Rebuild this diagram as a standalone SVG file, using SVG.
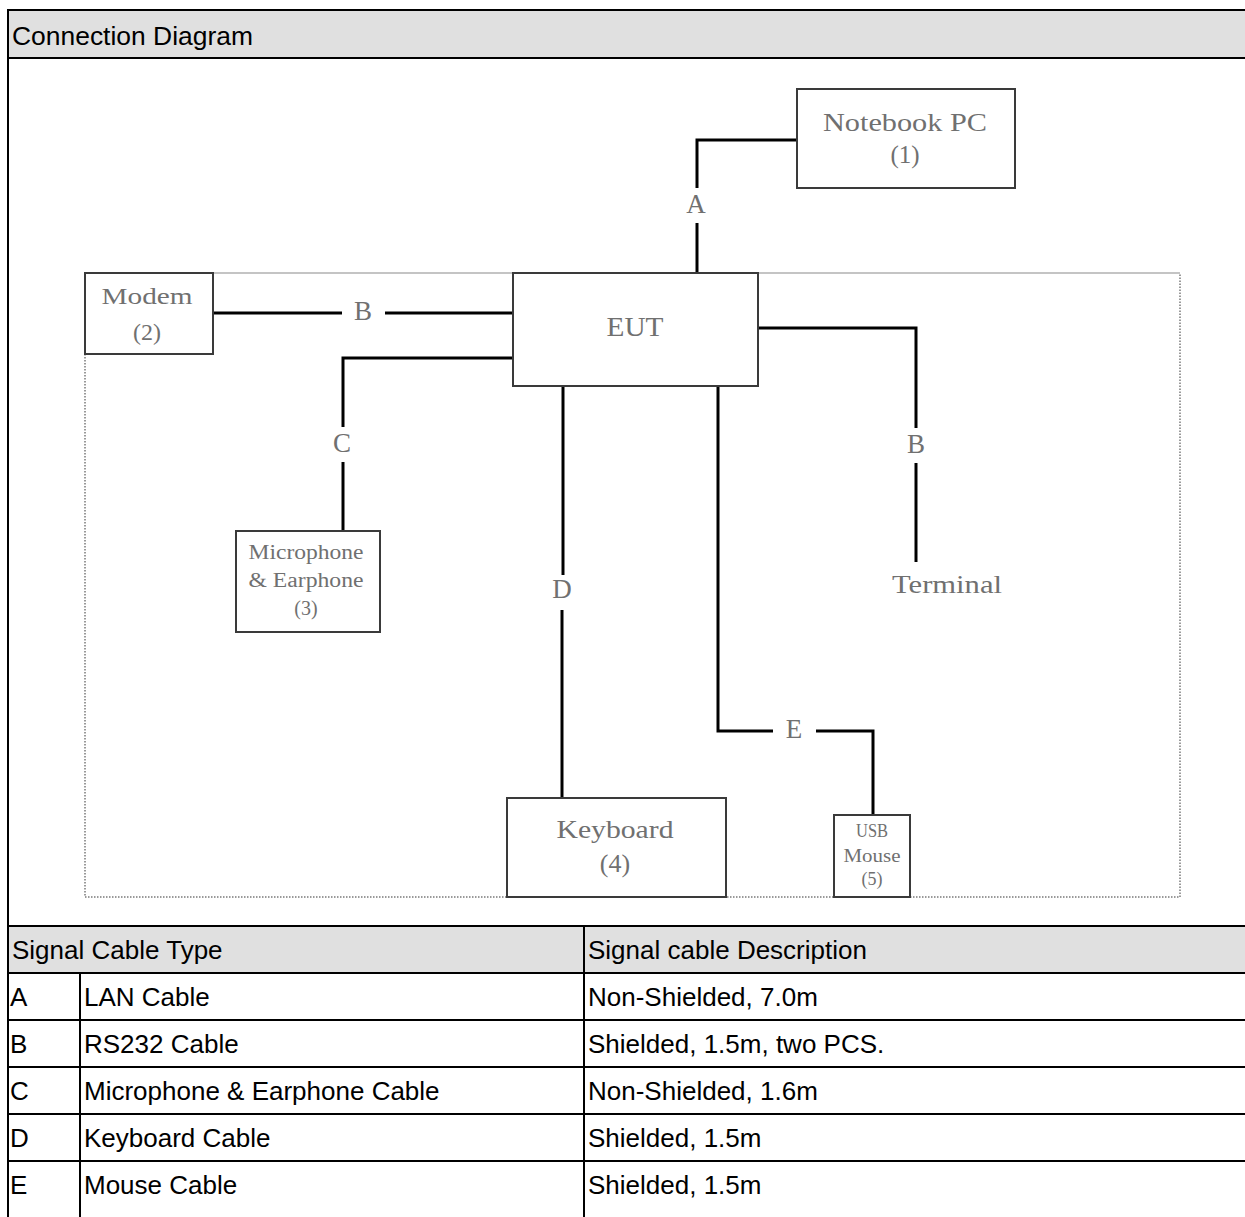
<svg xmlns="http://www.w3.org/2000/svg" width="1245" height="1217" viewBox="0 0 1245 1217">
<style>
.tbl{font-family:"Liberation Sans",Arial,sans-serif;font-size:26px;fill:#000}
.grid{stroke:#000;stroke-width:2;fill:none}
.box{fill:#fff;stroke:#3a3a3a;stroke-width:2}
.lbl{font-family:"Liberation Serif","Times New Roman",serif;fill:#707070;text-anchor:middle}
.wire{stroke:#000;stroke-width:3;fill:none}
</style>
<rect x="0" y="0" width="1245" height="1217" fill="#fff"/>
<g id="table">
<rect x="8" y="10" width="1245" height="48" fill="#e0e0e0"/>
<rect x="8" y="926" width="1245" height="47" fill="#e0e0e0"/>
<line class="grid" x1="8" y1="10" x2="1245" y2="10"/>
<line class="grid" x1="8" y1="58" x2="1245" y2="58"/>
<line class="grid" x1="8" y1="9" x2="8" y2="1217"/>
<line class="grid" x1="8" y1="926" x2="1245" y2="926"/>
<line class="grid" x1="8" y1="973" x2="1245" y2="973"/>
<line class="grid" x1="8" y1="1020" x2="1245" y2="1020"/>
<line class="grid" x1="8" y1="1067" x2="1245" y2="1067"/>
<line class="grid" x1="8" y1="1114" x2="1245" y2="1114"/>
<line class="grid" x1="8" y1="1161" x2="1245" y2="1161"/>
<line class="grid" x1="80" y1="973" x2="80" y2="1217"/>
<line class="grid" x1="584" y1="926" x2="584" y2="1217"/>
<text class="tbl" x="12" y="45" textLength="241" lengthAdjust="spacingAndGlyphs">Connection Diagram</text>
<text class="tbl" x="12" y="959">Signal Cable Type</text>
<text class="tbl" x="588" y="959">Signal cable Description</text>
<text class="tbl" x="10" y="1006">A</text>
<text class="tbl" x="84" y="1006">LAN Cable</text>
<text class="tbl" x="588" y="1006">Non-Shielded, 7.0m</text>
<text class="tbl" x="10" y="1053">B</text>
<text class="tbl" x="84" y="1053">RS232 Cable</text>
<text class="tbl" x="588" y="1053">Shielded, 1.5m, two PCS.</text>
<text class="tbl" x="10" y="1100">C</text>
<text class="tbl" x="84" y="1100">Microphone &amp; Earphone Cable</text>
<text class="tbl" x="588" y="1100">Non-Shielded, 1.6m</text>
<text class="tbl" x="10" y="1147">D</text>
<text class="tbl" x="84" y="1147">Keyboard Cable</text>
<text class="tbl" x="588" y="1147">Shielded, 1.5m</text>
<text class="tbl" x="10" y="1194">E</text>
<text class="tbl" x="84" y="1194">Mouse Cable</text>
<text class="tbl" x="588" y="1194">Shielded, 1.5m</text>
</g>
<g id="frame">
<line x1="85" y1="273" x2="1180" y2="273" stroke="#c4c4c4" stroke-width="2"/>
<path d="M85,273 V897 H1180 V273" fill="none" stroke="#9a9a9a" stroke-width="2" stroke-dasharray="1.5 1.5"/>
</g>
<g id="connectors">
<path class="wire" d="M797,140 H697 V188"/>
<path class="wire" d="M697,223 V273"/>
<path class="wire" d="M213,313 H342"/>
<path class="wire" d="M385,313 H513"/>
<path class="wire" d="M513,358 H343 V427"/>
<path class="wire" d="M343,462 V531"/>
<path class="wire" d="M563,386 V575"/>
<path class="wire" d="M562,610 V798"/>
<path class="wire" d="M718,386 V731 H773"/>
<path class="wire" d="M816,731 H873 V815"/>
<path class="wire" d="M758,328 H916 V428"/>
<path class="wire" d="M916,463 V562"/>
<text class="lbl" x="696" y="213" font-size="27">A</text>
<text class="lbl" x="363" y="320" font-size="27">B</text>
<text class="lbl" x="342" y="452" font-size="27">C</text>
<text class="lbl" x="562" y="598" font-size="27">D</text>
<text class="lbl" x="794" y="738" font-size="27">E</text>
<text class="lbl" x="916" y="453" font-size="27">B</text>
</g>
<g id="notebook">
<rect class="box" x="797" y="89" width="218" height="99"/>
<text class="lbl" x="905" y="131" font-size="25" textLength="164" lengthAdjust="spacingAndGlyphs">Notebook PC</text>
<text class="lbl" x="905" y="163" font-size="25">(1)</text>
</g>
<g id="modem">
<rect class="box" x="85" y="273" width="128" height="81"/>
<text class="lbl" x="147" y="304" font-size="24" textLength="91" lengthAdjust="spacingAndGlyphs">Modem</text>
<text class="lbl" x="147" y="340" font-size="24">(2)</text>
</g>
<g id="eut">
<rect class="box" x="513" y="273" width="245" height="113"/>
<text class="lbl" x="635" y="336" font-size="27" textLength="57" lengthAdjust="spacingAndGlyphs">EUT</text>
</g>
<g id="microphone">
<rect class="box" x="236" y="531" width="144" height="101"/>
<text class="lbl" x="306" y="559" font-size="20" textLength="115" lengthAdjust="spacingAndGlyphs">Microphone</text>
<text class="lbl" x="306" y="587" font-size="20" textLength="115" lengthAdjust="spacingAndGlyphs">&amp; Earphone</text>
<text class="lbl" x="306" y="615" font-size="20">(3)</text>
</g>
<g id="terminal">
<text class="lbl" x="947" y="593" font-size="26" textLength="110" lengthAdjust="spacingAndGlyphs">Terminal</text>
</g>
<g id="keyboard">
<rect class="box" x="507" y="798" width="219" height="99"/>
<text class="lbl" x="615" y="838" font-size="26" textLength="117" lengthAdjust="spacingAndGlyphs">Keyboard</text>
<text class="lbl" x="615" y="872" font-size="26">(4)</text>
</g>
<g id="mouse">
<rect class="box" x="834" y="815" width="76" height="82"/>
<text class="lbl" x="872" y="837" font-size="18" textLength="32" lengthAdjust="spacingAndGlyphs">USB</text>
<text class="lbl" x="872" y="862" font-size="18" textLength="57" lengthAdjust="spacingAndGlyphs">Mouse</text>
<text class="lbl" x="872" y="885" font-size="18">(5)</text>
</g>
</svg>
